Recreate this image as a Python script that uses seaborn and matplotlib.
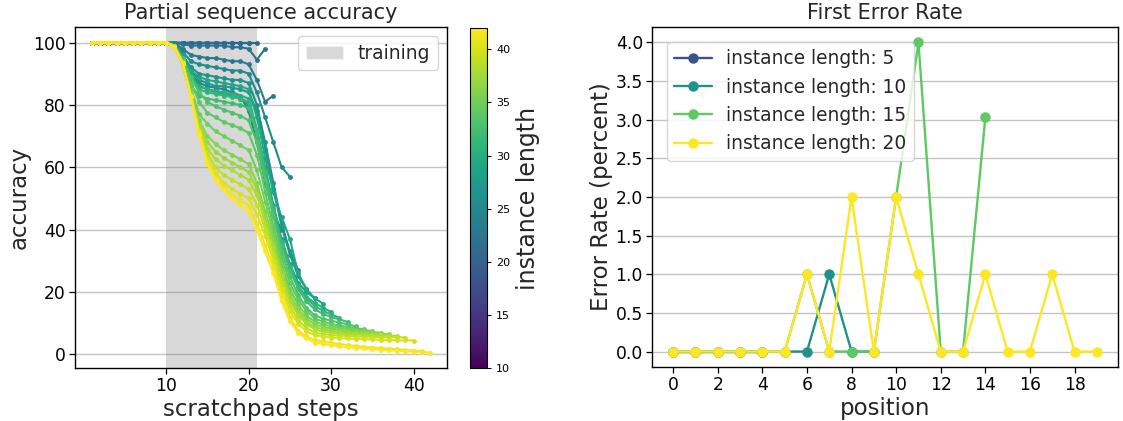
import numpy as np
import pandas as pd
import matplotlib
matplotlib.use("Agg")
import matplotlib.pyplot as plt
from matplotlib.lines import Line2D
from matplotlib.patches import Patch
import seaborn as sns

# ---------------- data: left panel (partial sequence accuracy, %) ----------------
short_lengths = [10, 11, 12, 13, 14, 15, 16, 17, 18, 19, 20]   # all steps at 100 %
acc_21 = [100]*10 + [100, 100, 100, 100, 100, 100, 100, 100, 100, 100, 100]
acc_22 = [100]*10 + [100, 99.5, 99, 99, 99, 99, 99, 98.5, 98.5, 98, 94.5, 98]
acc_23 = [100]*10 + [100, 98, 96, 95.5, 95, 95, 94.5, 94, 94, 93, 88, 81, 83]
acc_24 = [100]*10 + [99, 95, 90, 87, 86, 85.5, 85, 84, 83, 78, 68, 55, 45, 40]
acc_25 = [100]*10 + [100, 97, 94, 93, 92.5, 92, 91.5, 91, 91, 90, 84, 76, 68, 60, 57]
acc_26 = [100]*10 + [99, 96, 92, 90, 89.5, 89, 88.5, 88, 88, 87, 80, 68, 55, 42, 33, 27]
acc_27 = [100]*10 + [99, 95, 91, 88, 87, 86, 86, 85.5, 85, 84, 78, 66, 53, 41, 32, 25, 21]
acc_28 = [100]*10 + [99, 96, 90, 86, 85, 84, 83.5, 83, 82, 80, 72, 60, 48, 37, 29, 23, 20, 18]
acc_29 = [100]*10 + [99, 95, 91, 89, 88, 87.5, 87, 86.5, 86, 85, 76, 63, 52, 44, 37, 26, 21, 18, 16.3]
acc_30 = [100]*10 + [99, 94, 89, 86, 85, 84.5, 84, 83.5, 83, 82, 72, 58, 46, 36, 28, 22, 18.5, 16.5, 15, 13.6]
acc_31 = [100]*10 + [99, 94, 88, 85, 84, 83.5, 83, 82.5, 82, 81, 72, 59, 47, 36, 28, 22, 18, 15.5, 14, 12.8, 11.8]
acc_32 = [100]*10 + [99, 93, 86, 83, 82, 81.5, 81, 80.5, 80, 79, 71, 58, 46, 35, 27, 21, 17, 14.5, 13, 12, 11.2, 10.4]
acc_33 = [100]*10 + [99, 95, 89, 84, 81, 79.5, 78.5, 77.5, 76.5, 75, 68, 56, 44, 33, 25, 19, 15, 12.5, 11.5, 10.8, 10.2, 9.6, 9]
acc_34 = [100]*10 + [99, 94, 87, 81, 77.5, 76, 74.5, 73.5, 72.5, 71, 64, 52, 41, 31, 23, 17.5, 14, 11.5, 10.5, 9.8, 9.2, 8.8, 8.4, 8]
acc_35 = [100]*10 + [99, 94, 85, 77, 74, 71.5, 70, 68.5, 67, 65.5, 59, 49, 39, 29, 21, 16, 12.5, 10.5, 9.6, 9, 8.6, 8.2, 7.9, 7.7, 7.5]
acc_36 = [100]*10 + [99, 93, 84, 75, 70, 67.5, 65.5, 64, 62.5, 61, 55, 46, 37, 27, 19.5, 14.5, 11.5, 9.6, 8.8, 8.3, 7.9, 7.6, 7.4, 7.2, 7.1, 7]
acc_37 = [100]*10 + [99, 93, 83, 74, 68, 65, 63, 61.5, 60, 58.5, 53, 44, 35, 26, 18, 13.5, 10.5, 8.8, 8, 7.6, 7.3, 7.1, 6.9, 6.8, 6.7, 6.6, 6.5]
acc_38 = [100]*10 + [99, 93, 83, 73, 66, 62.5, 60.5, 59, 57.5, 56, 51, 42, 34, 25, 17, 12.5, 9.8, 8, 7.3, 6.9, 6.7, 6.5, 6.4, 6.3, 6.2, 6.1, 6.0, 5.9]
acc_39 = [100]*10 + [99, 93, 83, 72, 64.5, 60, 57.5, 56, 54.5, 53, 48, 40, 32, 23, 15.5, 11, 8.5, 7, 6.5, 6.2, 6.0, 5.9, 5.8, 5.7, 5.6, 5.6, 5.5, 5.5, 5.4]
acc_40 = [100]*10 + [98.5, 93, 83, 71.5, 63, 58, 55, 53, 51.5, 50, 45, 38, 30, 21, 14, 9.8, 7.4, 6.2, 5.7, 5.4, 5.2, 5.1, 5.0, 4.9, 4.8, 4.7, 4.6, 4.5, 4.5, 4.4]
acc_41 = [100]*10 + [98.5, 93.5, 83, 71, 62, 57, 53.5, 51, 49.5, 47.7, 42, 35, 28, 19, 12, 7.5, 5.8, 4.6, 4.2, 3.7, 3.3, 3.0, 2.7, 2.4, 2.2, 2.0, 1.8, 1.6, 1.4, 1.2, 1.0]
acc_42 = [100]*10 + [98.7, 93.5, 82.6, 70.5, 61, 56, 52.6, 50, 48, 45.6, 40, 33, 26, 17, 10.6, 6.8, 5.2, 3.8, 3.4, 3.0, 2.6, 2.3, 2.1, 1.9, 1.7, 1.5, 1.3, 1.1, 1.0, 0.9, 0.75, 0.6]

long_series = [acc_21, acc_22, acc_23, acc_24, acc_25, acc_26, acc_27, acc_28, acc_29,
               acc_30, acc_31, acc_32, acc_33, acc_34, acc_35, acc_36, acc_37, acc_38,
               acc_39, acc_40, acc_41, acc_42]

train_span = (10, 21)
cbar_ticks = [10, 15, 20, 25, 30, 35, 40]

# ---------------- data: right panel (first error rate, %) ----------------
err_len5 = [0, 0, 0, 0, 0]
err_len10 = [0, 0, 0, 0, 0, 0, 0, 1, 0, 0]
err_len15 = [0, 0, 0, 0, 0, 0, 1, 0, 0, 0, 2, 4, 0, 0, 3.03]
err_len20 = [0, 0, 0, 0, 0, 0, 1, 0, 2, 0, 2, 1, 0, 0, 1, 0, 0, 1, 0, 0]
err_lengths = [5, 10, 15, 20]

# ---------------- build tables ----------------
rows = []
for L in short_lengths:
    for s in range(1, L + 1):
        rows.append((s, 100.0, L))
for vals in long_series:
    L = len(vals)
    for s, v in enumerate(vals, start=1):
        rows.append((s, v, L))
df_acc = pd.DataFrame(rows, columns=["step", "accuracy", "length"])

err_series = [err_len5, err_len10, err_len15, err_len20]
erows = []
for L, vals in zip(err_lengths, err_series):
    for p, v in enumerate(vals):
        erows.append((p, v, f"instance length: {L}"))
df_err = pd.DataFrame(erows, columns=["position", "rate", "label"])

# ---------------- style ----------------
sns.set_style("ticks")
plt.rcParams["font.family"] = ["DejaVu Sans"]
plt.rcParams["axes.edgecolor"] = "black"
plt.rcParams["xtick.color"] = "black"
plt.rcParams["ytick.color"] = "black"

W, H = 1123, 421
fig = plt.figure(figsize=(W / 100, H / 100), dpi=100)

def box(x0, y0, x1, y1):
    return [x0 / W, 1 - y1 / H, (x1 - x0) / W, (y1 - y0) / H]

ax1 = fig.add_axes(box(75, 27, 447, 368))
cax = fig.add_axes(box(470, 28, 487, 368))
ax2 = fig.add_axes(box(652, 27, 1118, 367))

cmap = plt.get_cmap("viridis")
norm = matplotlib.colors.Normalize(vmin=10, vmax=42)

# ---- left panel ----
ax1.grid(axis="y", color="#c4c4c4", linewidth=1.0, zorder=0)
ax1.axvspan(train_span[0], train_span[1], color="gray", alpha=0.3, lw=0, zorder=1)
sns.lineplot(data=df_acc, x="step", y="accuracy", hue="length", palette="viridis",
             hue_norm=(10, 42), marker="o", markersize=3.5, markeredgewidth=0,
             linewidth=1.5, legend=False, estimator=None, sort=False, ax=ax1, zorder=2)
ax1.set_xticks([10, 20, 30, 40])
ax1.set_yticks([0, 20, 40, 60, 80, 100])
ax1.tick_params(labelsize=12.3, length=4, width=0.9, pad=2.5)
ax1.set_title("Partial sequence accuracy", fontsize=15)
ax1.set_xlabel("scratchpad steps", fontsize=16.5, labelpad=2)
ax1.set_ylabel("accuracy", fontsize=16.5, labelpad=2)
ax1.legend(handles=[Patch(facecolor="gray", alpha=0.3, label="training")],
           loc="upper right", fontsize=13.4)
for sp in ax1.spines.values():
    sp.set_linewidth(1.0)

sm = matplotlib.cm.ScalarMappable(norm=norm, cmap=cmap)
cb = fig.colorbar(sm, cax=cax, ticks=cbar_ticks)
cb.ax.tick_params(labelsize=8, length=3)
cb.set_label("instance length", fontsize=17, labelpad=4)
cb.outline.set_linewidth(0.8)

# ---- right panel ----
err_palette = {f"instance length: {L}": cmap(L / 20) for L in err_lengths}
ax2.grid(axis="y", color="#c4c4c4", linewidth=1.0, zorder=0)
sns.lineplot(data=df_err, x="position", y="rate", hue="label",
             hue_order=list(err_palette.keys()), palette=err_palette,
             marker="o", markersize=7.5, markeredgewidth=0, linewidth=1.7,
             legend=False, estimator=None, sort=False, ax=ax2)
ax2.set_xticks(range(0, 20, 2))
ax2.set_yticks(np.arange(0, 4.01, 0.5))
ax2.yaxis.set_major_formatter(matplotlib.ticker.FormatStrFormatter("%.1f"))
ax2.tick_params(labelsize=12.3, length=4, width=0.9, pad=2.5)
ax2.set_title("First Error Rate", fontsize=15)
ax2.set_xlabel("position", fontsize=16.5, labelpad=2)
ax2.set_ylabel("Error Rate (percent)", fontsize=16.5, labelpad=2)
handles = [Line2D([0], [0], color=c, marker="o", markersize=7.5, linewidth=1.7,
                  markeredgewidth=0, label=lab) for lab, c in err_palette.items()]
ax2.legend(handles=handles, loc="upper left", fontsize=13.4, borderaxespad=0.8)
for sp in ax2.spines.values():
    sp.set_linewidth(1.0)

fig.savefig("out.png", dpi=100)
